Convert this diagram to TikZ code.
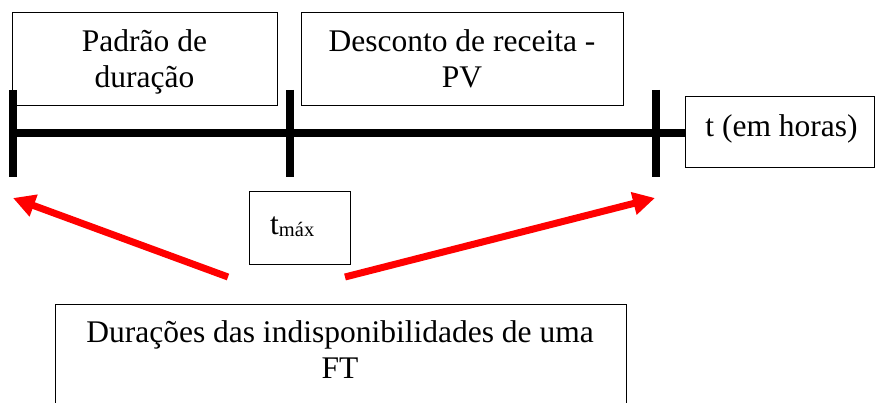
\documentclass[tikz,border=0pt]{standalone}
\usepackage{fontspec}
\setmainfont{Liberation Serif}
\newfontfamily\timesfont{Liberation Serif}
\usetikzlibrary{arrows.meta}
\begin{document}
\begin{tikzpicture}[x=1pt,y=-1pt,
  box/.style={draw=black, line width=1pt, inner sep=0pt},
  txt/.style={anchor=base, inner sep=0pt, font=\timesfont\fontsize{31.5}{36}\selectfont},
  axisline/.style={line width=8pt},
  tickline/.style={line width=8pt},
  redarrow/.style={draw=red, line width=7pt, -{Triangle[length=22pt,width=22pt]}}]
\useasboundingbox (0,0) rectangle (875,403);
% boxes
\node[box, minimum width=265pt, minimum height=93pt] (pd) at (144.5,59.5) {};
\node[box, minimum width=322pt, minimum height=93pt] (dr) at (462,59.5) {};
\node[box, minimum width=189pt, minimum height=71pt] (th) at (779.5,132.5) {};
\node[box, minimum width=101pt, minimum height=73pt] (tm) at (299.5,228.5) {};
\node[box, minimum width=571pt, minimum height=126pt] (du) at (340.5,367) {};
% texts
\node[txt] (pd1) at (144.5,52) {Padrão de};
\node[txt] (pd2) at (144.5,88) {duração};
\node[txt] (dr1) at (462,52) {Desconto de receita -};
\node[txt] (dr2) at (462,88) {PV};
\node[txt] (tht) at (781.5,137) {t (em horas)};
\node[txt, anchor=base west] (tmt) at (270,235) {t\raisebox{-2pt}{\timesfont\fontsize{20.5}{22}\selectfont máx}};
\node[txt] (du1) at (340,342) {Durações das indisponibilidades de uma};
\node[txt] (du2) at (340,378) {FT};
% timeline
\coordinate (ax0) at (13,133);
\coordinate (ax1) at (th.west |- ax0);
\draw[axisline] (ax0) -- (ax1);
\coordinate (t1a) at (13,90);   \coordinate (t1b) at (13,177);
\coordinate (t2a) at (289.5,90); \coordinate (t2b) at (289.5,177);
\coordinate (t3a) at (655.5,90); \coordinate (t3b) at (655.5,177);
\draw[tickline] (t1a) -- (t1b);
\draw[tickline] (t2a) -- (t2b);
\draw[tickline] (t3a) -- (t3b);
% red arrows
\coordinate (la0) at (228,277); \coordinate (la1) at (13,198);
\coordinate (ra0) at (345,277); \coordinate (ra1) at (655,198);
\draw[redarrow] (la0) -- (la1);
\draw[redarrow] (ra0) -- (ra1);
\end{tikzpicture}
\end{document}
